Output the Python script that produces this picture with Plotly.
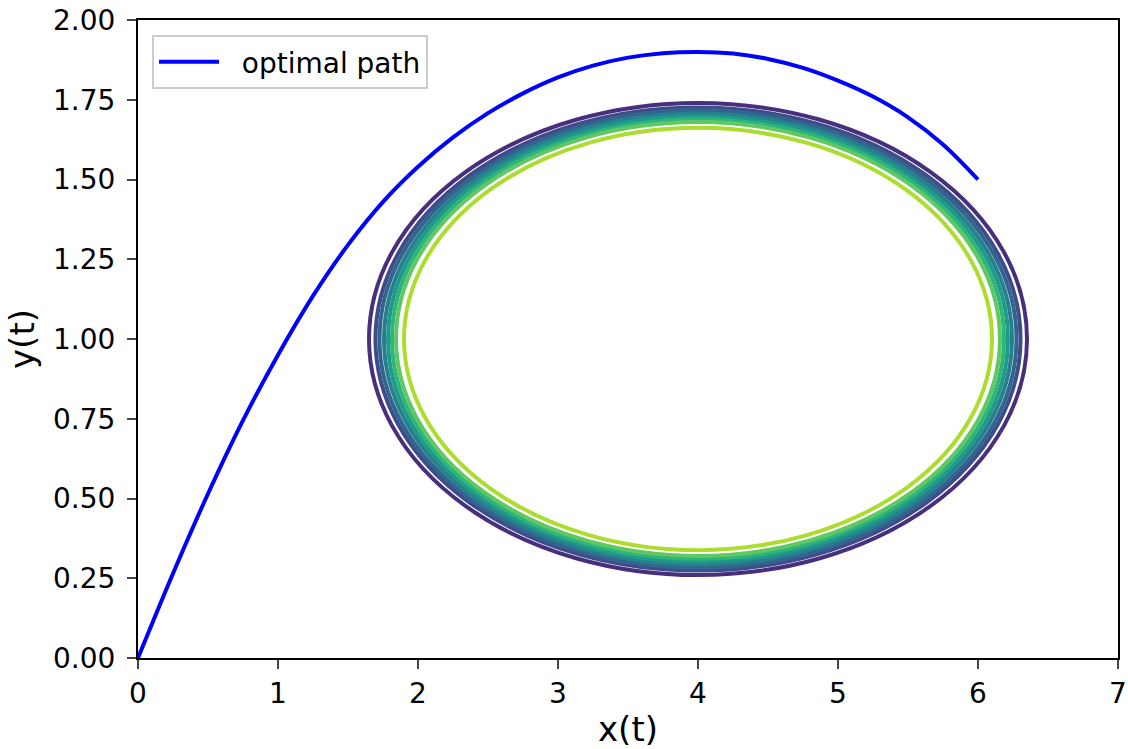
import plotly.graph_objects as go

# optimal path samples
path_x = [0, 0.25, 0.5, 0.75, 1.0, 1.25, 1.5, 1.75, 2.0, 2.25, 2.5, 2.75, 3.0, 3.25, 3.5, 3.75,
          4.0, 4.25, 4.5, 4.75, 5.0, 5.25, 5.5, 5.75, 6.0]
path_y = [0, 0.265, 0.515, 0.745, 0.95, 1.135, 1.295, 1.43, 1.54, 1.632, 1.708, 1.77, 1.82, 1.857, 1.882, 1.896,
          1.90, 1.895, 1.878, 1.85, 1.81, 1.76, 1.695, 1.61, 1.50]

# elliptical level curves: centre and semi-axes, outer to inner
ring_cx = 4.0
ring_cy = 1.0
ring_rx = [2.350, 2.304, 2.275, 2.243, 2.214, 2.186, 2.157, 2.100]
ring_ry = [0.740, 0.726, 0.717, 0.707, 0.698, 0.689, 0.680, 0.662]
ring_colors = ["#472f7d", "#3e4c8a", "#32658e", "#277f8e", "#1f998a", "#2fb47c", "#5ec962", "#addc30"]

x_ticks = [0, 1, 2, 3, 4, 5, 6, 7]
y_ticks = [0.0, 0.25, 0.5, 0.75, 1.0, 1.25, 1.5, 1.75, 2.0]
y_tick_text = [f"{v:.2f}" for v in y_ticks]

fig = go.Figure()

shapes = []
for rx, ry, c in zip(ring_rx, ring_ry, ring_colors):
    shapes.append(dict(type="circle", xref="x", yref="y",
                       x0=ring_cx - rx, x1=ring_cx + rx,
                       y0=ring_cy - ry, y1=ring_cy + ry,
                       line=dict(color=c, width=4), layer="above"))

fig.add_trace(go.Scatter(x=path_x, y=path_y, mode="lines", name="&nbsp;&nbsp;optimal path",
                         line=dict(color="#0000ff", width=4, shape="spline", smoothing=1.0)))

font = dict(family="DejaVu Sans", size=28, color="black")

fig.update_layout(
    width=1128, height=749,
    margin=dict(l=138, r=10, t=20, b=91, autoexpand=False),
    paper_bgcolor="white", plot_bgcolor="white",
    font=font,
    shapes=shapes,
    showlegend=True,
    legend=dict(x=0.0143, y=0.9765, xanchor="left", yanchor="top",
                bgcolor="rgba(255,255,255,0.8)", bordercolor="#cccccc", borderwidth=2,
                itemwidth=60,
                font=dict(family="DejaVu Sans", size=28, color="black")),
    xaxis=dict(range=[0, 7], tickvals=x_ticks, ticks="outside", ticklen=9, tickwidth=2,
               showline=True, linecolor="black", linewidth=2, mirror=True,
               showgrid=False, zeroline=False, ticklabelstandoff=0, automargin=False,
               ticklabeloverflow="allow",
               title=dict(text="x(t)", standoff=10)),
    yaxis=dict(range=[0, 2], tickvals=y_ticks, ticktext=y_tick_text, ticks="outside",
               ticklen=9, tickwidth=2,
               showline=True, linecolor="black", linewidth=2, mirror=True,
               showgrid=False, zeroline=False, ticklabelstandoff=6, automargin=False,
               ticklabeloverflow="allow",
               title=dict(text="y(t)", standoff=8)),
)

# remove the default page margin so the figure fills the window exactly
fig.write_html("out.html", config={"displayModeBar": False},
               post_script="document.body.style.margin='0';")
